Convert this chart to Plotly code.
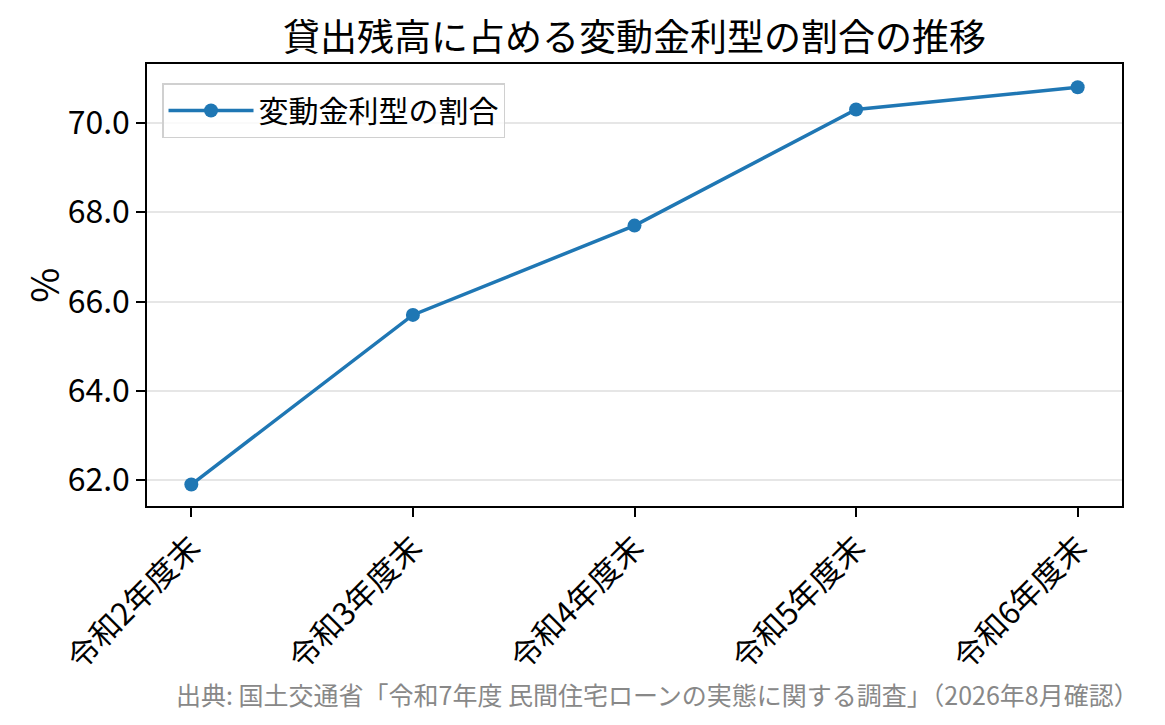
import plotly.graph_objects as go

# 年度末ごとの変動金利型の割合 (%)
years = ["令和2年度末", "令和3年度末", "令和4年度末", "令和5年度末", "令和6年度末"]
share = [61.9, 65.7, 67.7, 70.3, 70.8]
y_ticks = [62.0, 64.0, 66.0, 68.0, 70.0]

font_jp = "Noto Sans CJK JP"

fig = go.Figure()

fig.add_trace(go.Scatter(
    x=list(range(len(years))),
    y=share,
    mode="lines+markers",
    line=dict(color="#1f77b4", width=3.5),
    marker=dict(size=14, color="#1f77b4"),
    name="変動金利型の割合"
))

# page body has an 8px margin, so the figure is shrunk by that much
fig.update_layout(
    width=1149,
    height=709,
    paper_bgcolor="white",
    plot_bgcolor="white",
    font=dict(family=font_jp, color="black", size=30),
    title=dict(text="貸出残高に占める変動金利型の割合の推移", xref="paper", x=0.5, xanchor="center",
               y=0.958, yanchor="middle", font=dict(size=37)),
    margin=dict(l=139, r=35, t=56, b=211),
    showlegend=True,
    legend=dict(x=0.0154, y=0.957, xanchor="left", yanchor="top",
                bordercolor="#d0d0d0", borderwidth=1.5, bgcolor="rgba(255,255,255,0.8)",
                itemwidth=85, font=dict(size=30)),
    xaxis=dict(
        range=[-0.2, 4.2],
        tickmode="array",
        tickvals=list(range(len(years))),
        ticktext=years,
        tickangle=-45,
        ticks="outside", ticklen=9, tickwidth=1.5, tickcolor="black",
        showline=True, linecolor="black", linewidth=1.5, mirror=True,
        showgrid=False, zeroline=False,
        tickfont=dict(size=31),
    ),
    yaxis=dict(
        range=[61.42, 71.32],
        tickmode="array",
        tickvals=y_ticks,
        ticktext=[f"{v:.1f}" for v in y_ticks],
        ticks="outside", ticklen=9, tickwidth=1.5, tickcolor="black",
        showline=True, linecolor="black", linewidth=1.5, mirror=True,
        showgrid=True, gridcolor="#e6e6e6", gridwidth=1.5, zeroline=False,
        tickfont=dict(size=32),
    ),
)

fig.add_annotation(
    text="%", textangle=-90,
    xref="paper", yref="paper", x=-0.108, y=0.5, xanchor="center", yanchor="middle",
    showarrow=False, font=dict(size=38),
)

fig.add_annotation(
    text="出典: 国土交通省「令和7年度 民間住宅ローンの実態に関する調査」（2026年8月確認）",
    xref="paper", yref="paper", x=1.0195, y=-0.425, xanchor="right", yanchor="middle",
    showarrow=False, font=dict(size=25, color="#888888"),
)

fig.write_html("out.html")
